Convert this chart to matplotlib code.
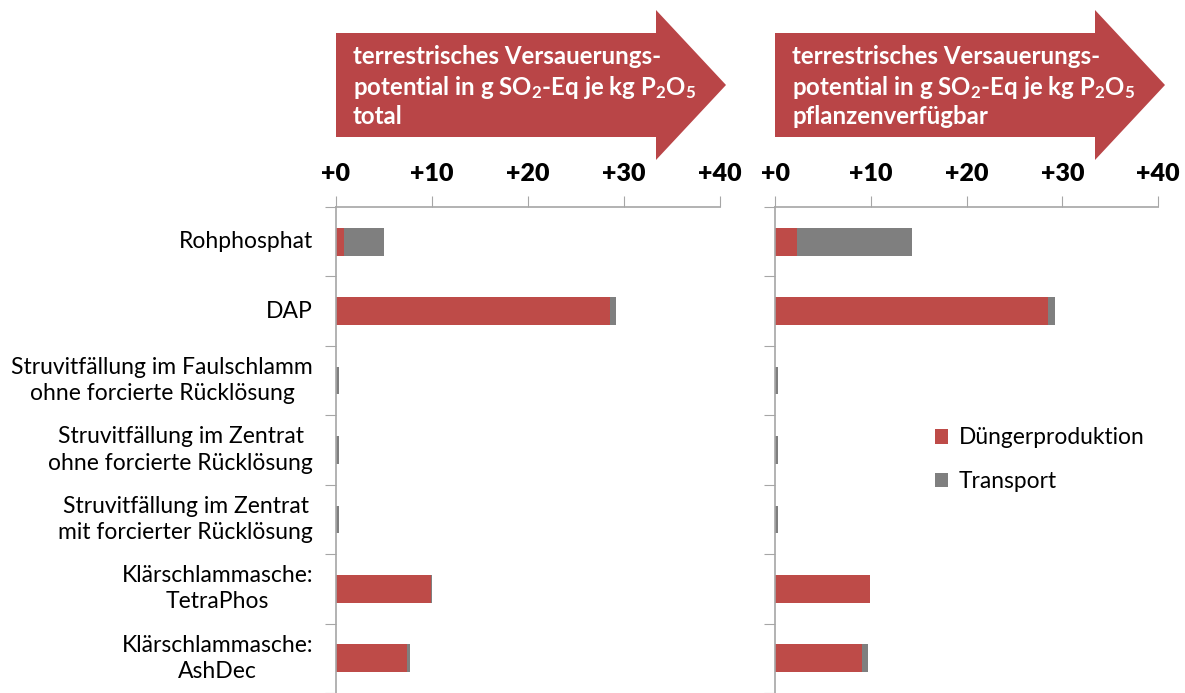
import numpy as np
import matplotlib
matplotlib.use("Agg")
import matplotlib.pyplot as plt
from matplotlib.patches import Polygon, Patch
from matplotlib.ticker import FuncFormatter

plt.rcParams.update({
    'font.family': ['Lato', 'DejaVu Sans'],
    'mathtext.fontset': 'custom',
    'mathtext.rm': 'Lato:bold',
    'mathtext.bf': 'Lato:bold',
    'mathtext.it': 'Lato:bold',
})

categories = [
    'Rohphosphat',
    'DAP',
    'Struvitfällung im Faulschlamm\nohne forcierte Rücklösung',
    'Struvitfällung im Zentrat\nohne forcierte Rücklösung',
    'Struvitfällung im Zentrat\nmit forcierter Rücklösung',
    'Klärschlammasche:\nTetraPhos',
    'Klärschlammasche:\nAshDec',
]
# g SO2-Eq per kg P2O5 total
duenger_total = [0.8, 28.5, 0.0, 0.0, 0.0, 9.9, 7.4]
transport_total = [4.2, 0.7, 0.3, 0.3, 0.3, 0.05, 0.3]
# g SO2-Eq per kg P2O5 pflanzenverfügbar
duenger_pflanz = [2.3, 28.5, 0.0, 0.0, 0.0, 9.9, 9.1]
transport_pflanz = [12.0, 0.7, 0.3, 0.3, 0.3, 0.05, 0.6]

titles = [
    'terrestrisches Versauerungs-\npotential in g SO$_2$-Eq je kg P$_2$O$_5$\ntotal',
    'terrestrisches Versauerungs-\npotential in g SO$_2$-Eq je kg P$_2$O$_5$\npflanzenverfügbar',
]
xticks = [0, 10, 20, 30, 40]

RED = '#BE4B48'
GRAY = '#7F7F7F'
AXC = '#A6A6A6'
W, H = 1185, 693

fig = plt.figure(figsize=(W / 100, H / 100), dpi=100)
ax1 = fig.add_axes([336 / W, 0, 384 / W, 1 - 207 / H])
ax2 = fig.add_axes([775 / W, 0, 383 / W, 1 - 207 / H])

y = np.arange(len(categories))
for ax, d, t in [(ax1, duenger_total, transport_total),
                 (ax2, duenger_pflanz, transport_pflanz)]:
    ax.barh(y, d, height=0.4, color=RED, label='Düngerproduktion')
    ax.barh(y, t, left=d, height=0.4, color=GRAY, label='Transport')
    ax.set_xlim(0, 40)
    ax.set_ylim(len(categories) - 0.5, -0.5)
    ax.xaxis.tick_top()
    ax.set_xticks(xticks)
    ax.xaxis.set_major_formatter(FuncFormatter(lambda v, p: '+%d' % v))
    ax.set_yticks(np.arange(len(categories) + 1) - 0.5, minor=False)
    ax.set_yticklabels([])
    ax.tick_params(axis='x', direction='out', length=8, color=AXC,
                   labelsize=18, pad=8)
    ax.tick_params(axis='y', direction='out', length=8, color=AXC)
    for lbl in ax.get_xticklabels():
        lbl.set_fontweight('heavy')
    for s in ['bottom', 'right']:
        ax.spines[s].set_visible(False)
    for s in ['top', 'left']:
        ax.spines[s].set_color(AXC)
        ax.spines[s].set_linewidth(1.2)

for i, c in enumerate(categories):
    ax1.text(-2.4, i, c, ha='right', va='center', multialignment='center',
             fontsize=16.5, linespacing=1.3)

# header arrows
for x0, title in [(336, titles[0]), (775, titles[1])]:
    pts = [(x0, 33), (x0 + 320, 33), (x0 + 320, 10), (x0 + 390, 85),
           (x0 + 320, 160), (x0 + 320, 137), (x0, 137)]
    pts = [(px / W, 1 - py / H) for px, py in pts]
    fig.add_artist(Polygon(pts, closed=True, transform=fig.transFigure,
                           facecolor='#B94547', edgecolor='none'))
    fig.text((x0 + 17) / W, 1 - 87 / H, title, ha='left', va='center',
             color='white', fontsize=17.3, fontweight='bold', linespacing=1.25)

handles = [Patch(facecolor=RED), Patch(facecolor=GRAY)]
fig.legend(handles, ['Düngerproduktion', 'Transport'], loc='upper left',
           bbox_to_anchor=(914 / W, 1 - 407 / H), frameon=False,
           fontsize=16.4, handlelength=0.6, handleheight=0.6,
           handletextpad=0.45, labelspacing=1.0)

fig.savefig('out.png', dpi=100)
